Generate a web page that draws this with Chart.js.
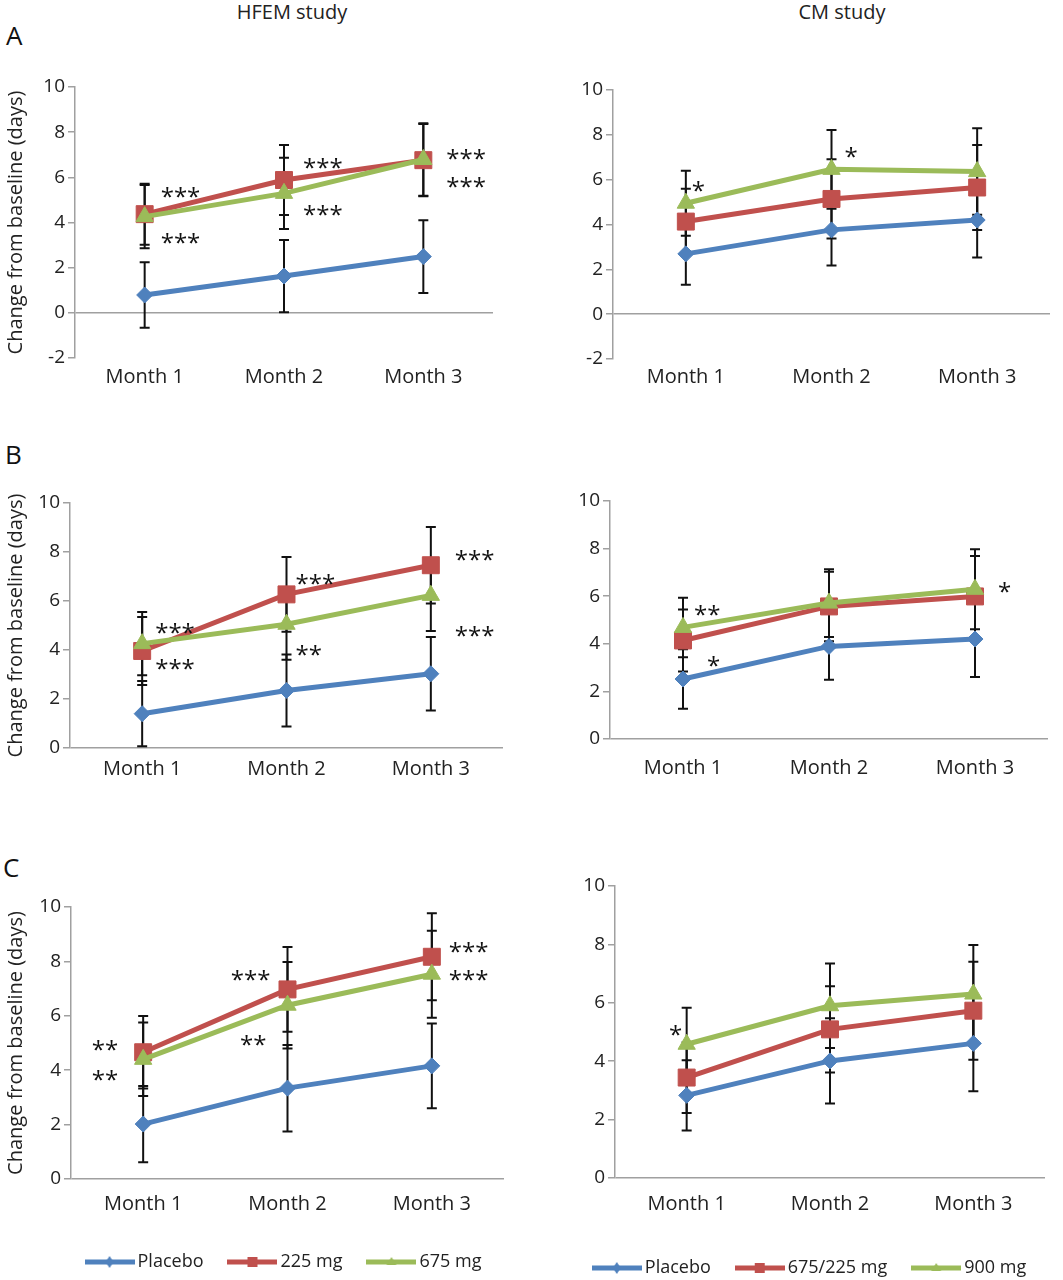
<!DOCTYPE html>
<html>
<head>
<meta charset="utf-8">
<script src="https://cdn.jsdelivr.net/npm/chart.js@4.4.1/dist/chart.umd.min.js"></script>
<style>
    body { margin: 0; background: #fff; width: 1063px; height: 1280px; position: relative; overflow: hidden; font-family: 'Open Sans', sans-serif; color: #222; }
    canvas { position: absolute; }
    .txt { position: absolute; white-space: nowrap; line-height: 1; }
    .study { font-size: 20px; transform: translateX(-50%); }
    .letter { font-size: 26px; color: #111; }
</style>
</head>
<body>
<div class="txt study" style="left:292px; top:2px;">HFEM study</div>
<div class="txt study" style="left:842px; top:2px;">CM study</div>
<div class="txt letter" style="left:6px; top:22px;">A</div>
<div class="txt letter" style="left:5px; top:441px;">B</div>
<div class="txt letter" style="left:3px; top:854px;">C</div>

<script>
const months = ['Month 1', 'Month 2', 'Month 3'];
const hfemSeries = ['Placebo', '225 mg', '675 mg'];
const cmSeries = ['Placebo', '675/225 mg', '900 mg'];

// A - HFEM study
const aHfemPlacebo = [0.79, 1.63, 2.49];
const aHfemPlaceboErr = [1.45, 1.6, 1.61];
const aHfem225 = [4.37, 5.88, 6.76];
const aHfem225Err = [1.35, 1.55, 1.6];
const aHfem675 = [4.26, 5.29, 6.79];
const aHfem675Err = [1.4, 1.58, 1.6];
// [month index, y value, text, x shift, align]
const aHfemStars = [[0, 5.41, '***', 16, 'left'], [0, 3.35, '***', 16, 'left'],
    [1, 6.66, '***', 19, 'left'], [1, 4.59, '***', 19, 'left'],
    [2, 7.09, '***', 23, 'left'], [2, 5.84, '***', 23, 'left']];

// A - CM study
const aCmPlacebo = [2.69, 3.76, 4.2];
const aCmPlaceboErr = [1.38, 1.59, 1.67];
const aCm675 = [4.13, 5.14, 5.65];
const aCm675Err = [1.46, 1.77, 1.9];
const aCm900 = [4.95, 6.46, 6.36];
const aCm900Err = [1.45, 1.76, 1.93];
const aCmStars = [[0, 5.77, '*', 6, 'left'], [1, 7.3, '*', 13, 'left']];

// B - HFEM study
const bHfemPlacebo = [1.4, 2.35, 3.03];
const bHfemPlaceboErr = [1.33, 1.47, 1.5];
const bHfem225 = [3.96, 6.27, 7.46];
const bHfem225Err = [1.39, 1.53, 1.56];
const bHfem675 = [4.26, 5.05, 6.23];
const bHfem675Err = [1.29, 1.45, 1.45];
const bHfemStars = [[0, 4.94, '***', 13, 'left'], [0, 3.47, '***', 13, 'left'],
    [1, 6.95, '***', 9, 'left'], [1, 4.05, '**', 9, 'left'],
    [2, 7.9, '***', 24, 'left'], [2, 4.83, '***', 24, 'left']];

// B - CM study
const bCmPlacebo = [2.52, 3.89, 4.2];
const bCmPlaceboErr = [1.25, 1.4, 1.6];
const bCm675 = [4.14, 5.57, 5.99];
const bCm675Err = [1.3, 1.46, 1.7];
const bCm900 = [4.69, 5.71, 6.29];
const bCm900Err = [1.25, 1.42, 1.68];
const bCmStars = [[0, 5.45, '**', 11, 'left'], [0, 3.33, '*', 24, 'left'], [2, 6.41, '*', 23, 'left']];

// C - HFEM study
const cHfemPlacebo = [2.02, 3.34, 4.16];
const cHfemPlaceboErr = [1.4, 1.59, 1.56];
const cHfem225 = [4.66, 6.97, 8.17];
const cHfem225Err = [1.33, 1.56, 1.6];
const cHfem675 = [4.4, 6.39, 7.53];
const cHfem675Err = [1.35, 1.59, 1.6];
const cHfemStars = [[0, 4.96, '**', -25, 'right'], [0, 3.86, '**', -25, 'right'],
    [1, 7.53, '***', -17, 'right'], [1, 5.15, '**', -21, 'right'],
    [2, 8.57, '***', 17, 'left'], [2, 7.53, '***', 17, 'left']];

// C - CM study
const cCmPlacebo = [2.83, 4.01, 4.61];
const cCmPlaceboErr = [1.2, 1.46, 1.64];
const cCm675 = [3.44, 5.09, 5.73];
const cCm675Err = [1.21, 1.48, 1.68];
const cCm900 = [4.58, 5.9, 6.3];
const cCm900Err = [1.25, 1.45, 1.68];
const cCmStars = [[0, 5.09, '*', -11, 'center']];

const colors = ['#4F81BD', '#C0504D', '#9BBB59'];
const markers = [['rectRot', 8], ['rect', 12], ['triangle', 10]];
const axisGray = '#A0A0A0';
const textColor = '#222';
const fontFamily = "'Open Sans', sans-serif";

Chart.defaults.font.family = fontFamily;

// chart area (page px): left, top, right, bottom
const panels = [
    { area: [75, 87, 493, 358], yMin: -2, title: true, labelPad: 7, means: [aHfemPlacebo, aHfem225, aHfem675], errs: [aHfemPlaceboErr, aHfem225Err, aHfem675Err], stars: aHfemStars },
    { area: [613, 90, 1050, 359], yMin: -2, title: false, labelPad: 6, means: [aCmPlacebo, aCm675, aCm900], errs: [aCmPlaceboErr, aCm675Err, aCm900Err], stars: aCmStars },
    { area: [70, 503, 503, 748], yMin: 0, title: true, labelPad: 9, means: [bHfemPlacebo, bHfem225, bHfem675], errs: [bHfemPlaceboErr, bHfem225Err, bHfem675Err], stars: bHfemStars },
    { area: [610, 501, 1048, 739], yMin: 0, title: false, labelPad: 17, means: [bCmPlacebo, bCm675, bCm900], errs: [bCmPlaceboErr, bCm675Err, bCm900Err], stars: bCmStars },
    { area: [71, 907, 504, 1179], yMin: 0, title: true, labelPad: 13, means: [cHfemPlacebo, cHfem225, cHfem675], errs: [cHfemPlaceboErr, cHfem225Err, cHfem675Err], stars: cHfemStars },
    { area: [615, 886, 1045, 1178], yMin: 0, title: false, labelPad: 14, means: [cCmPlacebo, cCm675, cCm900], errs: [cCmPlaceboErr, cCm675Err, cCm900Err], stars: cCmStars }
];

const errorBars = {
    id: 'errorBars',
    beforeDatasetsDraw(chart, args, opts) {
        const { ctx, scales: { x, y } } = chart;
        ctx.save();
        ctx.strokeStyle = '#111';
        ctx.lineWidth = 2;
        opts.errs.forEach((err, i) => {
            const means = chart.data.datasets[i].data;
            err.forEach((e, j) => {
                const px = x.getPixelForValue(j);
                const lo = y.getPixelForValue(means[j] - e);
                const hi = y.getPixelForValue(means[j] + e);
                ctx.beginPath();
                ctx.moveTo(px, lo); ctx.lineTo(px, hi);
                ctx.moveTo(px - 5, lo); ctx.lineTo(px + 5, lo);
                ctx.moveTo(px - 5, hi); ctx.lineTo(px + 5, hi);
                ctx.stroke();
            });
        });
        ctx.restore();
    }
};

const stars = {
    id: 'stars',
    afterDatasetsDraw(chart, args, opts) {
        const { ctx, scales: { x, y } } = chart;
        ctx.save();
        ctx.font = `24px ${fontFamily}`;
        ctx.fillStyle = '#111';
        ctx.textBaseline = 'alphabetic';
        opts.list.forEach(([j, v, text, dx, align]) => {
            ctx.textAlign = align;
            // asterisks sit high in the line, so drop the baseline to centre them on v
            ctx.fillText(text, x.getPixelForValue(j) + dx, y.getPixelForValue(v) + 14);
        });
        ctx.restore();
    }
};

function makePanel(p) {
    const cx = p.area[0] < 530 ? 0 : 530;
    const cw = cx === 0 ? 530 : 1063 - 530;
    const top = p.area[1] - 30;
    const ch = p.area[3] - top + 45;
    const canvas = document.createElement('canvas');
    canvas.width = cw;
    canvas.height = ch;
    canvas.style.left = cx + 'px';
    canvas.style.top = top + 'px';
    document.body.appendChild(canvas);

    new Chart(canvas, {
        type: 'line',
        data: {
            labels: months,
            datasets: p.means.map((m, i) => ({
                data: m,
                borderColor: colors[i],
                backgroundColor: colors[i],
                borderWidth: 5,
                pointStyle: markers[i][0],
                pointRadius: markers[i][1],
                pointBorderWidth: 1,
                pointBackgroundColor: colors[i],
                pointBorderColor: colors[i],
                tension: 0,
                order: 2 - i
            }))
        },
        options: {
            responsive: false,
            animation: false,
            events: [],
            layout: { padding: { top: 30, right: cx + cw - p.area[2], left: 0, bottom: 0 } },
            plugins: {
                legend: { display: false },
                tooltip: { enabled: false },
                errorBars: { errs: p.errs },
                stars: { list: p.stars }
            },
            scales: {
                x: {
                    offset: true,
                    grid: { display: false, drawTicks: false },
                    border: { display: false },
                    ticks: { color: textColor, font: { size: 20 }, padding: p.labelPad },
                    afterFit: s => { s.height = 45; }
                },
                y: {
                    min: p.yMin,
                    max: 10,
                    ticks: { stepSize: 2, color: textColor, font: { size: 19 }, padding: 3 },
                    grid: {
                        color: c => c.tick && c.tick.value === 0 ? axisGray : 'transparent',
                        tickColor: axisGray,
                        tickLength: 7,
                        lineWidth: 1.5,
                        tickWidth: 1.5
                    },
                    border: { display: true, color: axisGray, width: 1.5 },
                    title: {
                        display: p.title,
                        text: 'Change from baseline (days)',
                        color: textColor,
                        font: { size: 20 },
                        padding: { top: 4, bottom: 0 }
                    },
                    afterFit: s => { s.width = p.area[0] - cx; }
                }
            }
        },
        plugins: [errorBars, stars]
    });
}

panels.forEach(makePanel);

// legend swatches: line with a small marker, like the spreadsheet legend
function swatch(color, shape) {
    const c = document.createElement('canvas');
    c.width = 50;
    c.height = 16;
    const g = c.getContext('2d');
    g.strokeStyle = color;
    g.fillStyle = color;
    g.lineWidth = 5;
    g.beginPath(); g.moveTo(0, 8); g.lineTo(50, 8); g.stroke();
    g.beginPath();
    if (shape === 'diamond') {
        g.moveTo(25, 2); g.lineTo(29, 8); g.lineTo(25, 14); g.lineTo(21, 8);
    } else if (shape === 'square') {
        g.rect(20, 3, 10, 10);
    } else {
        g.moveTo(25, 3); g.lineTo(30, 11); g.lineTo(20, 11);
    }
    g.closePath();
    g.fill();
    return c;
}
const swatches = [swatch(colors[0], 'diamond'), swatch(colors[1], 'square'), swatch(colors[2], 'triangle')];

function makeLegend(names, left, width, top) {
    const canvas = document.createElement('canvas');
    canvas.width = width;
    canvas.height = 90;
    canvas.style.left = left + 'px';
    canvas.style.top = top + 'px';
    document.body.appendChild(canvas);
    new Chart(canvas, {
        type: 'line',
        data: { labels: [], datasets: names.map((n, i) => ({ label: n, data: [], borderColor: colors[i] })) },
        options: {
            responsive: false,
            animation: false,
            events: [],
            scales: { x: { display: false }, y: { display: false } },
            plugins: {
                tooltip: { enabled: false },
                legend: {
                    position: 'top',
                    maxHeight: 200,
                    labels: {
                        usePointStyle: true,
                        pointStyleWidth: 38,
                        padding: 30,
                        color: textColor,
                        font: { size: 18 },
                        generateLabels: chart => chart.data.datasets.map((d, i) => ({
                            text: d.label,
                            pointStyle: swatches[i],
                            fillStyle: d.borderColor,
                            strokeStyle: d.borderColor,
                            lineWidth: 0,
                            hidden: false,
                            datasetIndex: i,
                            fontColor: textColor
                        }))
                    }
                }
            }
        }
    });
}

makeLegend(hfemSeries, 6, 560, 1223);
makeLegend(cmSeries, 562, 500, 1229);
</script>
</body>
</html>
